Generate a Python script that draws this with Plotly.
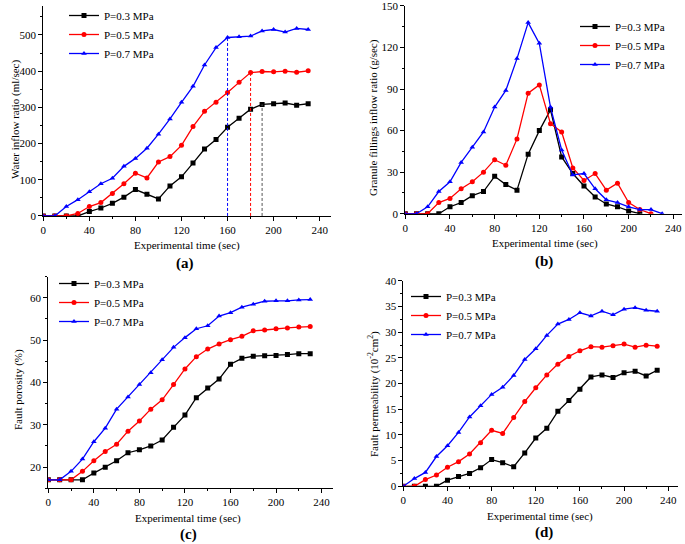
import plotly.graph_objects as go
from plotly.subplots import make_subplots

TIME = [0, 10, 20, 30, 40, 50, 60, 70, 80, 90, 100, 110,
        120, 130, 140, 150, 160, 170, 180, 190, 200, 210, 220, 230]
PRESSURES = ["P=0.3 MPa", "P=0.5 MPa", "P=0.7 MPa"]

# (a) water inflow ratio, ml/sec
WATER_03 = [0, 0, 0, 0, 12, 22, 35, 52, 73, 60, 47, 83,
            108, 146, 185, 211, 245, 270, 295, 308, 310, 312, 306, 310]
WATER_05 = [0, 0, 0, 7, 26, 37, 62, 89, 118, 105, 149, 164,
            195, 247, 289, 314, 341, 369, 396, 399, 398, 400, 397, 401]
WATER_07 = [0, 0, 26, 45, 67, 89, 104, 137, 159, 187, 226, 268,
            314, 358, 417, 465, 493, 495, 497, 511, 515, 508, 518, 515]
STABLE_TIME = [190, 180, 160]  # where each curve levels off

# (b) granule fillings inflow ratio, g/sec
GRANULE_03 = [0, 0, 0, 0, 5, 8, 13, 16, 27, 21, 17, 43,
              60, 75, 41, 29, 20, 12, 7, 5, 2, 0]
GRANULE_05 = [0, 0, 0, 8, 11, 18, 23, 30, 39, 35, 54, 87,
              93, 65, 59, 33, 24, 29, 17, 22, 8, 3, 0]
GRANULE_07 = [0, 0, 5, 16, 23, 37, 48, 59, 77, 89, 112, 138,
              123, 77, 46, 28, 29, 18, 10, 8, 5, 3, 3, 0]

# (c) fault porosity, %
POROSITY_03 = [17, 17, 17, 17, 18.6, 20, 21.5, 23.4, 24.1, 25, 26.4, 29.4,
               32.3, 36.4, 38.7, 40.8, 44.3, 45.7, 46.2, 46.3, 46.4, 46.6, 46.8, 46.8]
POROSITY_05 = [17, 17, 17, 19, 21.5, 23.7, 25.4, 28.5, 30.9, 33.7, 35.9, 39.5,
               43.2, 46.1, 47.9, 49.1, 50.1, 50.9, 52.2, 52.4, 52.7, 52.9, 53.1, 53.2]
POROSITY_07 = [17, 17, 19, 21.9, 26, 29.2, 33.7, 36.6, 39.5, 42.3, 45.4, 48.3,
               50.6, 52.7, 53.4, 55.7, 56.5, 57.8, 58.5, 59.2, 59.3, 59.3, 59.5, 59.6]

# (d) fault permeability, 10^-2 cm^2
PERM_03 = [0, 0, 0, 0, 1.2, 1.9, 2.5, 3.6, 5.2, 4.6, 3.8, 6.5,
           9.4, 11.3, 14.6, 16.7, 18.9, 21.3, 21.7, 21.2, 22.1, 22.4, 21.5, 22.6]
PERM_05 = [0, 0, 1.3, 2.2, 3.7, 4.8, 6.3, 8.5, 10.9, 10.3, 13.4, 16.5,
           19.2, 21.7, 23.8, 25.3, 26.4, 27.2, 27.1, 27.4, 27.7, 27.1, 27.5, 27.3]
PERM_07 = [0, 1.5, 2.7, 5.8, 7.9, 10.5, 13.5, 15.7, 17.9, 19.3, 21.6, 24.7,
           26.8, 29.4, 31.6, 32.5, 33.8, 33.2, 34.1, 33.4, 34.5, 34.8, 34.3, 34.1]

COLORS = ["#000000", "#ff0000", "#0000ff"]
SYMBOLS = ["square", "circle", "triangle-up"]
FONT = "Liberation Serif"

fig = make_subplots(rows=2, cols=2)

panels = [
    (1, 1, "legend", [WATER_03, WATER_05, WATER_07]),
    (1, 2, "legend2", [GRANULE_03, GRANULE_05, GRANULE_07]),
    (2, 1, "legend3", [POROSITY_03, POROSITY_05, POROSITY_07]),
    (2, 2, "legend4", [PERM_03, PERM_05, PERM_07]),
]

for row, col, legendName, series in panels:
    for i, values in enumerate(series):
        fig.add_trace(go.Scatter(
            x=TIME[:len(values)], y=values, mode="lines+markers",
            name=PRESSURES[i], legend=legendName,
            line=dict(color=COLORS[i], width=1.3),
            marker=dict(symbol=SYMBOLS[i], size=5, color=COLORS[i]),
        ), row=row, col=col)

# dashed drop lines where water inflow levels off
waterSeries = [WATER_03, WATER_05, WATER_07]
dashColors = ["#555555", "#ff0000", "#0000ff"]
for i, t in enumerate(STABLE_TIME):
    level = waterSeries[i][TIME.index(t)]
    fig.add_trace(go.Scatter(
        x=[t, t], y=[0, level], mode="lines", showlegend=False,
        line=dict(color=dashColors[i], width=1, dash="3px,2px"),
    ), row=1, col=1)

axisStyle = dict(
    showline=True, linecolor="black", linewidth=1, mirror=False,
    ticks="outside", ticklen=4, tickcolor="black", showgrid=False,
    zeroline=False, automargin=False, ticklabeloverflow="allow",
    tickfont=dict(family=FONT, size=11, color="black"),
)
titleFont = dict(family=FONT, size=11, color="black")

xDomains = [[0.0632, 0.4835], [0.5917, 0.996], [0.0705, 0.4861], [0.5888, 0.990]]
yDomains = [[0.603, 0.989], [0.6072, 0.989], [0.1024, 0.4914], [0.1061, 0.4835]]
xRanges = [[0, 250], [0, 248], [0, 250], [0, 249]]
yRanges = [[0, 580], [0, 150], [15, 65], [0, 40]]
yTicks = [100, 30, 10, 5]

for k in range(4):
    sfx = "" if k == 0 else str(k + 1)
    fig.layout["xaxis" + sfx].update(
        domain=xDomains[k], range=xRanges[k], dtick=40, tick0=0,
        minor=dict(ticks="outside", ticklen=2, dtick=20, tickcolor="black"),
        **axisStyle)
    fig.layout["yaxis" + sfx].update(
        domain=yDomains[k], range=yRanges[k], dtick=yTicks[k], tick0=0,
        minor=dict(ticks="outside", ticklen=2, dtick=yTicks[k] / 2, tickcolor="black"),
        **axisStyle)

# axis titles and panel labels, placed in page pixels
yTitles = ["Water inflow ratio (ml/sec)",
           "Granule fillings inflow ratio (g/sec)",
           "Fault porosity (%)",
           "Fault permeability (10<sup>-2</sup>cm<sup>2</sup>)"]
yTitlePos = [(15, 120), (373, 118), (18, 390), (373, 394)]
xTitlePos = [(187, 246), (545, 244), (188, 518), (540, 516)]
panelLabels = ["(a)", "(b)", "(c)", "(d)"]
labelPos = [(185, 263), (544, 261), (188, 534), (544, 532)]


def addText(text, pos, font, angle=0):
    fig.add_annotation(text=text, xref="paper", yref="paper",
                       x=pos[0] / 685, y=1 - pos[1] / 544,
                       xanchor="center", yanchor="middle", textangle=angle,
                       showarrow=False, font=font)


for k in range(4):
    addText(yTitles[k], yTitlePos[k], titleFont, angle=-90)
    addText("Experimental time (sec)", xTitlePos[k], titleFont)
    addText("<b>" + panelLabels[k] + "</b>", labelPos[k],
            dict(family=FONT, size=15, color="black"))

legendStyle = dict(font=dict(family=FONT, size=11, color="black"),
                   bgcolor="rgba(0,0,0,0)", xanchor="left", yanchor="top")
fig.update_layout(
    width=685, height=544,
    margin=dict(l=0, r=0, t=0, b=0, autoexpand=False),
    plot_bgcolor="white", paper_bgcolor="white",
    legend=dict(x=64 / 685, y=1 - 1 / 544, **legendStyle),
    legend2=dict(x=575 / 685, y=1 - 12 / 544, **legendStyle),
    legend3=dict(x=54 / 685, y=1 - 269 / 544, **legendStyle),
    legend4=dict(x=406 / 685, y=1 - 282 / 544, **legendStyle),
)

# drop the default page margin so the figure sits at the window corner
fig.write_html("out.html", config={"displayModeBar": False},
               post_script="document.body.style.margin='0';")
